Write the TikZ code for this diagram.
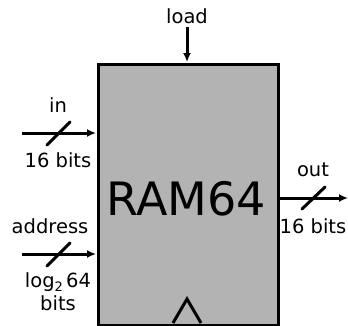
\documentclass[tikz,border=0pt]{standalone}
\usepackage{fontspec}
\setmainfont{DejaVu Sans}
\usetikzlibrary{arrows.meta}
\definecolor{boxgray}{HTML}{B3B3B3}
\newcommand{\subtwo}{\raisebox{-4pt}{\fontsize{13}{14}\selectfont 2}}
\begin{document}
\begin{tikzpicture}[x=1pt,y=-1pt,
  wire/.style={line width=3pt,-{Latex[length=9pt,width=8pt]}},
  busmark/.style={line width=3pt,line cap=round},
  lbl/.style={font=\fontsize{19.5}{21}\selectfont,inner sep=0pt,anchor=base},
  blk/.style={draw,line width=3pt,fill=boxgray,minimum width=180pt,minimum height=261pt,inner sep=0pt,anchor=north west}]
\useasboundingbox (0,0) rectangle (348,325);
\node[blk] (ram) at (96.5,62.5) {};
\node[font=\fontsize{46}{50}\selectfont,inner sep=0pt,anchor=base] (title) at (186,215) {RAM64};
% clock triangle
\coordinate (tl) at (173,323);
\coordinate (tr) at (201,323);
\coordinate (ta) at (187,299);
\draw[line width=3pt,line join=miter] (tl) -- (ta) -- (tr);
% load
\coordinate (loadstart) at (187,27);
\coordinate (loadend) at (187,62);
\draw[wire] (loadstart) -- (loadend);
\node[lbl] (loadlbl) at (187,23) {load};
% in
\coordinate (instart) at (22,133);
\coordinate (inend) at (96,133);
\draw[wire] (instart) -- (inend);
\coordinate (ina) at (47,145);
\coordinate (inb) at (70,122);
\draw[busmark] (ina) -- (inb);
\node[lbl] (inlbl) at (58,112) {in};
\node[lbl] (inbits) at (58,167) {16 bits};
% address
\coordinate (adstart) at (22,254);
\coordinate (adend) at (96,254);
\draw[wire] (adstart) -- (adend);
\coordinate (ada) at (47,266);
\coordinate (adb) at (70,243);
\draw[busmark] (ada) -- (adb);
\node[lbl] (adlbl) at (50,233) {address};
\node[lbl] (adlog) at (58,287) {log\subtwo\,64};
\node[lbl] (adbits) at (58,310) {bits};
% out
\coordinate (outstart) at (277,198);
\coordinate (outend) at (348,198);
\draw[wire] (outstart) -- (outend);
\coordinate (outa) at (302,209);
\coordinate (outb) at (325,187);
\draw[busmark] (outa) -- (outb);
\node[lbl] (outlbl) at (313,176) {out};
\node[lbl] (outbits) at (313,233) {16 bits};
\end{tikzpicture}
\end{document}
